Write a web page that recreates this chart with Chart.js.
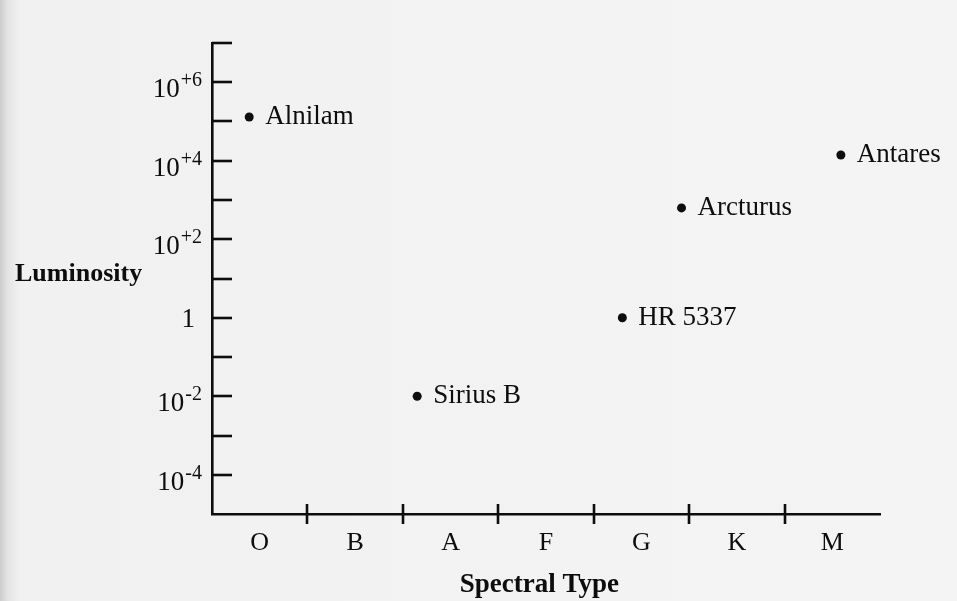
<!DOCTYPE html>
<html><head><meta charset="utf-8">
<script src="https://cdn.jsdelivr.net/npm/chart.js@4.4.0/dist/chart.umd.min.js"></script>
<style>
html,body{margin:0;padding:0;}
body{width:957px;height:601px;overflow:hidden;background:linear-gradient(to right,#cdcdcd 0px,#e4e4e4 8px,#f1f1f1 20px,#f4f4f4 100%);}
#wrap{width:957px;height:601px;position:relative;}
</style></head><body>
<div id="wrap"><canvas id="c" width="957" height="601"></canvas></div>
<script>
// ---- data ----
const spectralTypes = ['O', 'B', 'A', 'F', 'G', 'K', 'M'];
const starNames = ['Alnilam', 'Sirius B', 'HR 5337', 'Arcturus', 'Antares'];
const starSpectralPos = [-0.11, 1.65, 3.80, 4.42, 6.09];   // position along O..M (O = 0)
const starLuminosity = [1.3e5, 1.0e-2, 1.0, 6.3e2, 1.4e4];
const yTickExponents = [-4, -3, -2, -1, 0, 1, 2, 3, 4, 5, 6, 7];
const yLabelExponents = [-4, -2, 0, 2, 4, 6];
const yAxisTitle = 'Luminosity';
const xAxisTitle = 'Spectral Type';

const SERIF = '"Liberation Serif", "Times New Roman", serif';
const INK = '#0d0d0d';

const overlay = {
  id: 'overlay',
  afterDraw(chart) {
    const { ctx, scales: { x, y }, chartArea: a } = chart;
    ctx.save();
    ctx.strokeStyle = INK;
    ctx.fillStyle = INK;
    ctx.lineWidth = 2.6;
    // y tick marks (inside)
    yTickExponents.forEach(e => {
      const py = Math.round(y.getPixelForValue(Math.pow(10, e)));
      ctx.beginPath(); ctx.moveTo(a.left, py); ctx.lineTo(a.left + 20, py); ctx.stroke();
    });
    // x boundary ticks crossing axis
    for (let i = 0; i < spectralTypes.length - 1; i++) {
      const px = Math.round(x.getPixelForValue(i + 0.5));
      ctx.beginPath(); ctx.moveTo(px, a.bottom - 10); ctx.lineTo(px, a.bottom + 10); ctx.stroke();
    }
    // y labels with superscripts
    const rightX = a.left - 10;
    yLabelExponents.forEach(e => {
      const py = y.getPixelForValue(Math.pow(10, e));
      ctx.textAlign = 'right';
      ctx.textBaseline = 'alphabetic';
      if (e === 0) {
        ctx.font = '27px ' + SERIF;
        ctx.fillText('1', rightX - 7, py + 9);
        return;
      }
      const sup = (e > 0 ? '+' : '-') + Math.abs(e);
      ctx.font = '20px ' + SERIF;
      const sw = ctx.measureText(sup).width;
      ctx.fillText(sup, rightX, py + 4);
      ctx.font = '27px ' + SERIF;
      ctx.fillText('10', rightX - sw - 1, py + 15);
    });
    // point labels
    const meta = chart.getDatasetMeta(0);
    ctx.font = '27px ' + SERIF;
    ctx.textAlign = 'left';
    ctx.textBaseline = 'middle';
    meta.data.forEach((pt, i) => {
      ctx.fillText(starNames[i], pt.x + 16, pt.y);
    });
    // axis titles
    ctx.font = 'bold 26px ' + SERIF;
    ctx.textAlign = 'left';
    ctx.fillText(yAxisTitle, 15, 274);
    ctx.font = 'bold 27px ' + SERIF;
    ctx.textAlign = 'center';
    ctx.fillText(xAxisTitle, x.getPixelForValue(2.93), a.bottom + 71);
    ctx.restore();
  }
};

new Chart(document.getElementById('c'), {
  type: 'scatter',
  data: {
    datasets: [{
      data: starNames.map((n, i) => ({ x: starSpectralPos[i], y: starLuminosity[i] })),
      pointRadius: 4.5,
      pointHoverRadius: 4.5,
      pointBackgroundColor: INK,
      pointBorderWidth: 0
    }]
  },
  options: {
    responsive: false,
    animation: false,
    events: [],
    layout: { padding: { top: 43, right: 77, left: 0, bottom: 0 } },
    plugins: { legend: { display: false }, tooltip: { enabled: false } },
    scales: {
      x: {
        type: 'linear', min: -0.5, max: 6.5,
        afterBuildTicks(s) { s.ticks = spectralTypes.map((_, i) => ({ value: i })); },
        ticks: {
          callback: (v) => spectralTypes[v],
          font: { family: SERIF, size: 26 }, color: INK, padding: 14,
          autoSkip: false, maxRotation: 0
        },
        grid: { display: false, drawTicks: false },
        border: { display: true, color: INK, width: 2.6 },
        afterFit(s) { s.height = 87; }
      },
      y: {
        type: 'logarithmic', min: 1e-5, max: 1e7,
        ticks: { display: false },
        grid: { display: false, drawTicks: false },
        border: { display: true, color: INK, width: 2.6 },
        afterFit(s) { s.width = 212; }
      }
    }
  },
  plugins: [overlay]
});
</script>
</body></html>
